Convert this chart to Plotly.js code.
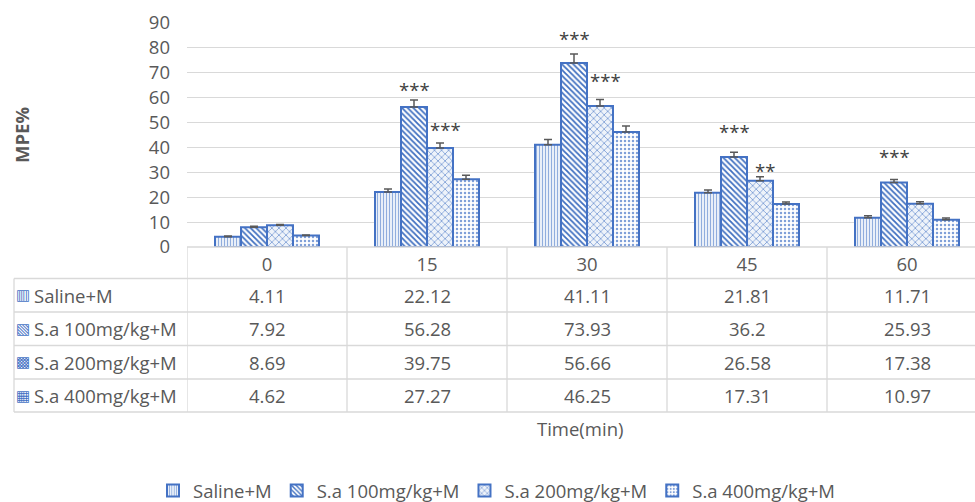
<!DOCTYPE html>
<html>
<head>
<meta charset="utf-8">
<script src="https://cdn.plot.ly/plotly-3.0.1.min.js"></script>
<style>
html,body{margin:0;padding:0;overflow:hidden;background:#fff;width:975px;height:502px;}
#chart{width:975px;height:502px;}
</style>
</head>
<body>
<div id="chart"></div>
<script>
// ---------- data ----------
const categories = ['0', '15', '30', '45', '60'];
const seriesNames = ['Saline+M', 'S.a 100mg/kg+M', 'S.a 200mg/kg+M', 'S.a 400mg/kg+M'];
const salineM = [4.11, 22.12, 41.11, 21.81, 11.71];
const sa100 = [7.92, 56.28, 73.93, 36.2, 25.93];
const sa200 = [8.69, 39.75, 56.66, 26.58, 17.38];
const sa400 = [4.62, 27.27, 46.25, 17.31, 10.97];
const errSaline = [0.3, 1.2, 2.1, 1.1, 0.8];
const err100 = [0.4, 2.8, 3.6, 1.9, 1.2];
const err200 = [0.4, 2.0, 2.6, 1.6, 0.8];
const err400 = [0.2, 1.6, 2.4, 0.8, 0.7];
const stars100 = ['', '***', '***', '***', '***'];
const stars200 = ['', '***', '***', '**', ''];
const yTicks = [0, 10, 20, 30, 40, 50, 60, 70, 80, 90];

// ---------- styles / layout geometry ----------
const W = 975, H = 502;
const M = {l: 187, r: 0, t: 23, b: 255, autoexpand: false};
const plotW = W - M.l - M.r, plotH = H - M.t - M.b;
const catPx = 160;                       // width of one time column
const xRange = [-0.5, -0.5 + plotW / catPx];
const axisBottomPx = H - M.b;
const xp = px => (px - M.l) / plotW;
const yp = py => (axisBottomPx - py) / plotH;
const BARGAP = 0.35;
const barPx = catPx * (1 - BARGAP) / 4;
const TXT = '#595959';
const FONT = 'Open Sans, Noto Sans, sans-serif';
const FS = 18.5;
const GRID = '#d9d9d9';
const BLUE = '#4472C4';
const patterns = [
  {shape: '|', size: 3, solidity: 0.3, fgcolor: '#86a6da', bgcolor: '#e9eff8'},
  {shape: '\\', size: 4, solidity: 0.45, fgcolor: '#3f6fc0', bgcolor: '#ffffff'},
  {shape: 'x', size: 5, solidity: 0.3, fgcolor: '#7c9dd5', bgcolor: '#eef3fa'},
  {shape: '.', size: 4, solidity: 0.3, fgcolor: '#7fa0d8', bgcolor: '#ffffff'}
];
const icons = ['\u25A5', '\u25A7', '\u25A9', '\u25A6'];
const starLift100 = [0, 7, 10, 10.3, 10.5];
const starLift200 = [0, 7.3, 10.3, 4.2, 0];
const rowLines = [278.5, 312, 345.5, 379, 412];

const seriesVals = [salineM, sa100, sa200, sa400];
const seriesErr = [errSaline, err100, err200, err400];

const traces = seriesVals.map((vals, k) => ({
  type: 'bar',
  name: seriesNames[k],
  x: categories,
  y: vals,
  marker: {color: patterns[k].bgcolor, line: {color: BLUE, width: 2}, pattern: patterns[k]},
  error_y: {type: 'data', symmetric: false, array: seriesErr[k], arrayminus: vals.map(() => 0),
            color: '#595959', thickness: 1.5, width: 4},
  hoverinfo: 'x+y+name'
}));

const shapes = [];
const line = {color: GRID, width: 1.3};
shapes.push({type: 'line', xref: 'paper', yref: 'paper', x0: 0, x1: 1, y0: 0, y1: 0, line});
rowLines.forEach(py => shapes.push({type: 'line', xref: 'paper', yref: 'paper', x0: xp(14), x1: 1, y0: yp(py), y1: yp(py), line}));
for (let i = 0; i < categories.length; i++) {
  shapes.push({type: 'line', xref: 'x', yref: 'paper', x0: i - 0.5, x1: i - 0.5, y0: 0, y1: yp(rowLines[rowLines.length - 1]), line});
}
shapes.push({type: 'line', xref: 'paper', yref: 'paper', x0: xp(14), x1: xp(14), y0: yp(rowLines[0]), y1: yp(rowLines[rowLines.length - 1]), line});

const annotations = [];
seriesVals.forEach((vals, k) => {
  const cy = yp((rowLines[k] + rowLines[k + 1]) / 2);
  annotations.push({xref: 'paper', yref: 'paper', x: xp(23), y: cy, text: icons[k], showarrow: false,
    xanchor: 'center', yanchor: 'middle', font: {family: 'DejaVu Sans', size: 15, color: BLUE}});
  annotations.push({xref: 'paper', yref: 'paper', x: xp(32), y: cy, text: seriesNames[k], showarrow: false,
    xanchor: 'left', yanchor: 'middle', font: {family: FONT, size: FS, color: TXT}});
  vals.forEach((v, i) => {
    annotations.push({xref: 'x', yref: 'paper', x: i, y: cy, text: String(v), showarrow: false,
      xanchor: 'center', yanchor: 'middle', font: {family: FONT, size: FS, color: TXT}});
  });
});
function addStars(labels, vals, lift, k, extraShift) {
  labels.forEach((s, i) => {
    if (!s) return;
    annotations.push({xref: 'x', yref: 'y', x: i, y: vals[i] + lift[i], text: s, showarrow: false,
      xanchor: 'center', yanchor: 'middle', xshift: (k - 1.5) * barPx + extraShift, yshift: 0,
      font: {family: FONT, size: FS, color: '#404040'}});
  });
}
addStars(stars100, sa100, starLift100, 1, 0);
addStars(stars200, sa200, starLift200, 2, 5);
annotations.push({xref: 'paper', yref: 'paper', x: xp(21), y: yp(135), text: '<b>MPE%</b>', textangle: -90,
  showarrow: false, xanchor: 'center', yanchor: 'middle', font: {family: FONT, size: FS, color: TXT}});
annotations.push({xref: 'paper', yref: 'paper', x: xp(580), y: yp(428), text: 'Time(min)',
  showarrow: false, xanchor: 'center', yanchor: 'middle', font: {family: FONT, size: FS, color: TXT}});

const layout = {
  width: W, height: H,
  margin: M,
  paper_bgcolor: '#fff', plot_bgcolor: '#fff',
  barmode: 'group', bargap: BARGAP, bargroupgap: 0,
  font: {family: FONT, size: FS, color: TXT},
  xaxis: {type: 'category', range: xRange, autorange: false,
          showgrid: false, showline: false, zeroline: false, ticks: '', ticklabelstandoff: 4,
          tickfont: {family: FONT, size: FS, color: TXT}, fixedrange: true},
  yaxis: {range: [0, 90], autorange: false, tickvals: yTicks, showgrid: true, gridcolor: GRID, gridwidth: 1.3,
          zeroline: false, showline: false, ticks: '', ticklabelstandoff: 16,
          tickfont: {family: FONT, size: FS, color: TXT}, fixedrange: true},
  legend: {orientation: 'h', x: xp(497), xanchor: 'center', y: yp(491), yanchor: 'middle',
           font: {family: FONT, size: FS, color: TXT}, bgcolor: 'rgba(0,0,0,0)'},
  shapes, annotations,
  showlegend: true
};

Plotly.newPlot('chart', traces, layout, {displayModeBar: false, responsive: false});
</script>
</body>
</html>
